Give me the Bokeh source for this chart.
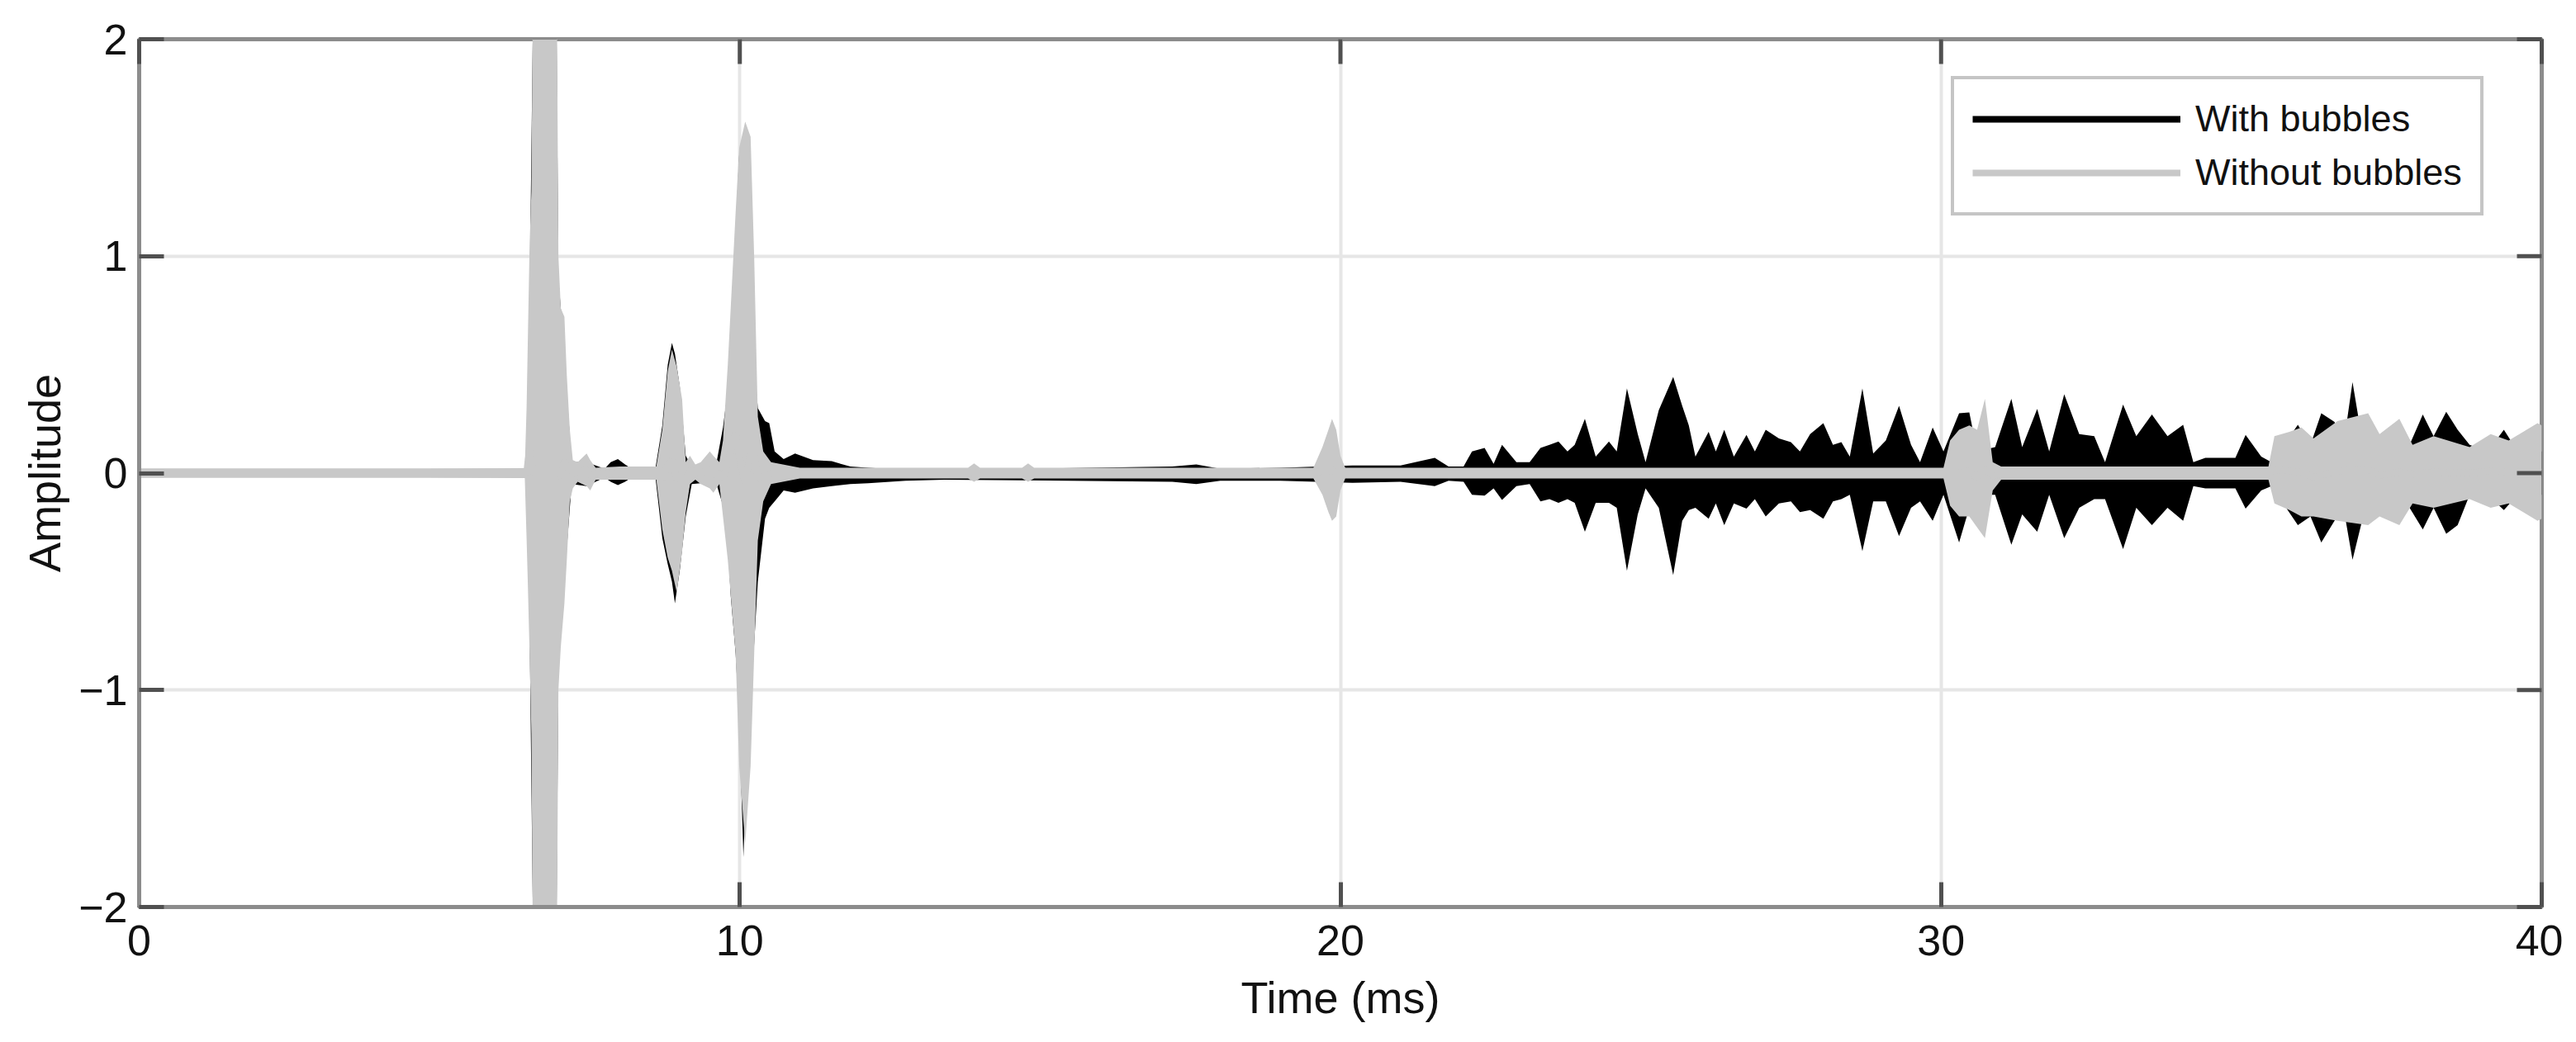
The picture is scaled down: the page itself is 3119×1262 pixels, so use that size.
import math
from bokeh.plotting import figure
from bokeh.models import (Range1d, FixedTicker, Legend, LegendItem, ColumnDataSource)
from bokeh.embed import file_html
from bokeh.resources import INLINE

# ---------------- data (envelopes) ----------------
x_ticks = [0, 10, 20, 30, 40]
y_ticks = [-2, -1, 0, 1, 2]
y_tick_labels = {-2: "\u22122", -1: "\u22121", 0: "0", 1: "1", 2: "2"}
series_names = ["With bubbles", "Without bubbles"]
x_limits = (0, 40)
y_limits = (-2, 2)

# With bubbles: time (ms), upper envelope, lower envelope
with_t = [0.0, 6.45, 6.50, 6.57, 6.94, 6.98, 7.05, 7.20, 7.45, 7.75, 7.85, 7.97, 8.09, 8.20, 8.60,
          8.71, 8.80, 8.87, 8.92, 9.00, 9.10, 9.20, 9.60, 9.72, 9.78, 9.85, 9.93, 9.99, 10.06,
          10.12, 10.30, 10.42, 10.49, 10.58, 10.73, 10.92, 11.22, 11.53, 11.84, 12.14, 12.76,
          13.40, 17.20, 17.60, 18.00, 19.00, 20.20, 21.00, 21.57, 21.80, 22.05, 22.19, 22.40,
          22.55, 22.69, 22.93, 23.15, 23.33, 23.48, 23.63, 23.78, 23.90, 24.07, 24.25, 24.47,
          24.60, 24.77, 24.95, 25.08, 25.30, 25.54, 25.69, 25.80, 25.91, 26.13, 26.25, 26.39,
          26.55, 26.76, 26.90, 27.08, 27.30, 27.50, 27.65, 27.82, 28.04, 28.20, 28.34, 28.48,
          28.69, 28.87, 29.08, 29.30, 29.50, 29.65, 29.86, 30.04, 30.30, 30.47, 30.60, 30.90,
          31.17, 31.35, 31.60, 31.80, 32.05, 32.30, 32.55, 32.73, 33.03, 33.25, 33.51, 33.77,
          34.03, 34.20, 34.40, 34.90, 35.07, 35.33, 35.50, 35.94, 36.15, 36.33, 36.55, 36.70,
          36.85, 37.00, 37.30, 37.60, 37.80, 38.02, 38.20, 38.41, 38.60, 38.80, 39.10, 39.37,
          39.60, 40.00]
with_up = [0.015, 0.02, 0.8, 2.4, 2.4, 0.9, 0.65, 0.05, 0.05, 0.02, 0.05, 0.065, 0.04, 0.02, 0.03,
           0.22, 0.5, 0.6, 0.55, 0.4, 0.08, 0.03, 0.03, 0.21, 0.34, 0.57, 1.12, 1.47, 1.2,
           0.9, 0.3, 0.24, 0.23, 0.10, 0.065, 0.09, 0.06, 0.055, 0.03, 0.025, 0.015,
           0.015, 0.03, 0.04, 0.02, 0.025, 0.035, 0.035, 0.07, 0.03, 0.03, 0.10, 0.116,
           0.043, 0.13, 0.05, 0.05, 0.116, 0.13, 0.146, 0.10, 0.13, 0.25, 0.076, 0.146,
           0.10, 0.39, 0.18, 0.05, 0.29, 0.443, 0.31, 0.22, 0.076, 0.19, 0.10, 0.20,
           0.076, 0.176, 0.10, 0.20, 0.16, 0.143, 0.10, 0.18, 0.23, 0.13, 0.143, 0.076,
           0.39, 0.09, 0.15, 0.31, 0.13, 0.05, 0.21, 0.10, 0.276, 0.28, 0.10, 0.12,
           0.343, 0.12, 0.296, 0.10, 0.363, 0.18, 0.17, 0.05, 0.316, 0.17, 0.27, 0.17,
           0.223, 0.05, 0.07, 0.07, 0.176, 0.076, 0.05, 0.223, 0.13, 0.276, 0.236, 0.13,
           0.42, 0.17, 0.12, 0.13, 0.13, 0.27, 0.17, 0.283, 0.20, 0.13, 0.10, 0.20,
           0.10, 0.10]
with_lo = [-0.015, -0.02, -0.7, -2.4, -2.4, -0.9, -0.6, -0.05, -0.06, -0.02, -0.04, -0.055, -0.04, -0.02, -0.03,
           -0.30, -0.42, -0.50, -0.60, -0.45, -0.20, -0.05, -0.04, -0.15, -0.23, -0.57, -0.83, -1.14, -1.77,
           -1.35, -0.50, -0.21, -0.16, -0.13, -0.08, -0.09, -0.07, -0.06, -0.05, -0.047, -0.035,
           -0.03, -0.04, -0.05, -0.035, -0.035, -0.045, -0.04, -0.06, -0.035, -0.04, -0.10, -0.104,
           -0.07, -0.124, -0.06, -0.05, -0.13, -0.12, -0.137, -0.12, -0.137, -0.27, -0.137, -0.137,
           -0.16, -0.45, -0.19, -0.07, -0.16, -0.47, -0.22, -0.17, -0.16, -0.21, -0.14, -0.24,
           -0.14, -0.164, -0.12, -0.20, -0.14, -0.13, -0.18, -0.17, -0.21, -0.13, -0.12, -0.10,
           -0.36, -0.13, -0.13, -0.29, -0.16, -0.13, -0.22, -0.10, -0.32, -0.16, -0.10, -0.10,
           -0.33, -0.19, -0.27, -0.10, -0.30, -0.16, -0.12, -0.12, -0.35, -0.16, -0.24, -0.16,
           -0.22, -0.06, -0.07, -0.07, -0.164, -0.08, -0.06, -0.24, -0.20, -0.32, -0.22, -0.16,
           -0.40, -0.23, -0.15, -0.15, -0.16, -0.26, -0.16, -0.28, -0.24, -0.10, -0.10, -0.17,
           -0.10, -0.10]

# Without bubbles: time (ms), upper envelope, lower envelope
without_t = [0.0, 6.42, 6.45, 6.47, 6.50, 6.53, 6.56, 6.95, 6.98, 7.02, 7.08, 7.12, 7.17, 7.22,
             7.30, 7.45, 7.51, 7.60, 8.00, 8.61, 8.71, 8.80, 8.87, 8.95, 9.04, 9.10, 9.17, 9.26,
             9.35, 9.50, 9.56, 9.66, 9.72, 9.80, 9.93, 9.99, 10.09, 10.18, 10.24, 10.30, 10.39,
             10.52, 11.00, 13.80, 13.90, 14.00, 14.70, 14.80, 14.90, 19.55, 19.70, 19.80, 19.86,
             19.93, 20.00, 20.08, 30.04, 30.15, 30.30, 30.47, 30.60, 30.73, 30.86, 31.00, 35.45,
             35.55, 35.80, 36.00, 36.20, 36.60, 37.11, 37.30, 37.63, 37.85, 38.20, 38.80, 39.15,
             39.45, 39.93, 40.00]
without_up = [0.022, 0.022, 0.3, 0.6, 1.05, 1.3, 2.4, 2.4, 1.0, 0.76, 0.72, 0.45, 0.2, 0.06,
              0.05, 0.09, 0.06, 0.025, 0.03, 0.03, 0.2, 0.47, 0.57, 0.49, 0.34, 0.05, 0.08, 0.04,
              0.05, 0.10, 0.08, 0.05, 0.15, 0.5, 1.2, 1.5, 1.62, 1.55, 0.99, 0.26, 0.10,
              0.05, 0.025, 0.025, 0.045, 0.025, 0.025, 0.045, 0.025, 0.025, 0.12, 0.20, 0.25,
              0.20, 0.08, 0.025, 0.025, 0.15, 0.20, 0.22, 0.20, 0.343, 0.05, 0.03, 0.03,
              0.17, 0.19, 0.21, 0.16, 0.24, 0.276, 0.18, 0.25, 0.13, 0.17, 0.12, 0.18,
              0.15, 0.23, 0.22]
without_lo = [-0.022, -0.022, -0.3, -0.5, -0.83, -1.2, -2.4, -2.4, -1.0, -0.8, -0.6, -0.4, -0.13, -0.07,
              -0.04, -0.06, -0.08, -0.03, -0.03, -0.03, -0.26, -0.39, -0.45, -0.55, -0.36, -0.18, -0.05, -0.03,
              -0.05, -0.07, -0.09, -0.05, -0.20, -0.40, -0.83, -1.35, -1.71, -1.35, -0.83, -0.31, -0.13,
              -0.05, -0.025, -0.025, -0.04, -0.025, -0.025, -0.04, -0.025, -0.025, -0.10, -0.18, -0.22,
              -0.20, -0.08, -0.025, -0.025, -0.15, -0.20, -0.20, -0.25, -0.30, -0.08, -0.03, -0.03,
              -0.14, -0.17, -0.20, -0.20, -0.22, -0.24, -0.20, -0.24, -0.14, -0.16, -0.12, -0.16,
              -0.14, -0.22, -0.21]

# ---------------- styling ----------------
FONT = "Liberation Sans"
BLACK = "#000000"
GRAY = "#c8c8c8"
AXIS = "#8c8c8c"
TICK = "#505050"
TICK_LEN = 30

p = figure(width=3103, height=1246, output_backend="svg", toolbar_location=None,
           x_range=Range1d(*x_limits), y_range=Range1d(*y_limits),
           min_border_left=168, min_border_right=26, min_border_top=47, min_border_bottom=148)
p.background_fill_color = "white"
p.border_fill_color = "white"
p.outline_line_color = AXIS
p.outline_line_width = 5

src_with = ColumnDataSource(dict(t=with_t, up=with_up, lo=with_lo,
                                 mid=[(a + b) / 2 for a, b in zip(with_up, with_lo)]))
src_without = ColumnDataSource(dict(t=without_t, up=without_up, lo=without_lo,
                                    mid=[(a + b) / 2 for a, b in zip(without_up, without_lo)]))

p.varea(x="t", y1="lo", y2="up", source=src_with, fill_color=BLACK)
r_with = p.line(x="t", y="mid", source=src_with, line_color=BLACK, line_width=8)
p.varea(x="t", y1="lo", y2="up", source=src_without, fill_color=GRAY)
r_without = p.line(x="t", y="mid", source=src_without, line_color=GRAY, line_width=8)

# grid
p.xgrid.ticker = FixedTicker(ticks=x_ticks)
p.ygrid.ticker = FixedTicker(ticks=y_ticks)
for g in (p.xgrid, p.ygrid):
    g.grid_line_color = "#e6e6e6"
    g.grid_line_width = 4

xax = p.xaxis[0]
yax = p.yaxis[0]
for ax, ticks, so in ((xax, x_ticks, 22), (yax, y_ticks, 14)):
    ax.ticker = FixedTicker(ticks=ticks)
    ax.axis_line_color = AXIS
    ax.axis_line_width = 5
    ax.major_tick_line_color = TICK
    ax.major_tick_line_width = 5
    ax.major_tick_in = TICK_LEN
    ax.major_tick_out = 0
    ax.minor_tick_line_color = None
    ax.major_label_text_font = FONT
    ax.major_label_text_color = "#111111"
    ax.major_label_text_font_size = "52px"
    ax.major_label_standoff = so
yax.major_label_overrides = y_tick_labels
xax.axis_label = "Time (ms)"
yax.axis_label = "Amplitude"
for ax, so in ((xax, 18), (yax, 8)):
    ax.axis_label_text_font = FONT
    ax.axis_label_text_font_size = "54px"
    ax.axis_label_text_font_style = "normal"
    ax.axis_label_text_color = "#111111"
    ax.axis_label_standoff = so

# inward tick marks on the top and right sides of the box (MATLAB style)
p.ray(x=x_ticks, y=[y_limits[1]] * len(x_ticks), length=TICK_LEN, length_units="screen",
      angle=-math.pi / 2, line_color=TICK, line_width=5, level="overlay")
p.ray(x=[x_limits[1]] * len(y_ticks), y=y_ticks, length=TICK_LEN, length_units="screen",
      angle=math.pi, line_color=TICK, line_width=5, level="overlay")

legend = Legend(items=[LegendItem(label=series_names[0], renderers=[r_with]),
                       LegendItem(label=series_names[1], renderers=[r_without])],
                location=(2194, 837), margin=0, padding=22, spacing=13,
                glyph_width=252, glyph_height=40, label_standoff=18,
                label_text_font=FONT, label_text_font_size="45px", label_text_color="#111111",
                border_line_color=AXIS, border_line_width=4,
                background_fill_color="white", background_fill_alpha=1.0)
p.add_layout(legend)

open("out.html", "w").write(file_html(p, INLINE))
